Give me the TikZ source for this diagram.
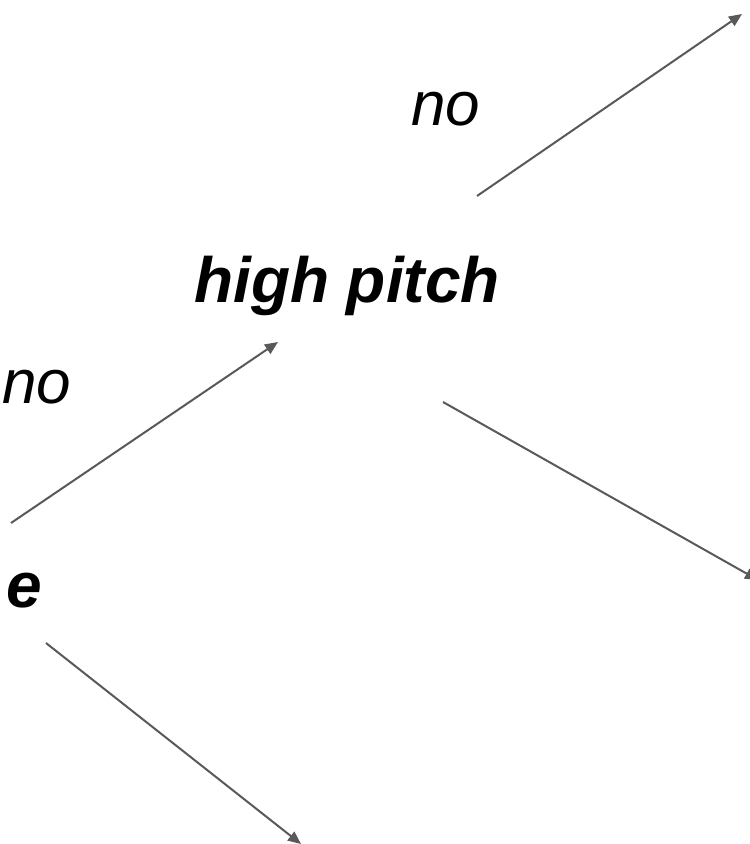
\documentclass[tikz,border=0pt]{standalone}
\usepackage{fontspec}
\setmainfont{Liberation Sans}
\usetikzlibrary{arrows.meta}
\definecolor{arrowgray}{HTML}{595959}
\tikzset{
  lbl/.style={font=\fontsize{62}{74}\selectfont\itshape, anchor=base, inner sep=0pt},
  bold lbl/.style={font=\fontsize{64}{76}\selectfont\bfseries\itshape, anchor=base, inner sep=0pt},
  conn/.style={draw=arrowgray, line width=2pt, -{Triangle[length=13pt,width=11pt]}, fill=arrowgray}
}
\begin{document}
\begin{tikzpicture}[x=1pt,y=-1pt]
\useasboundingbox (0,0) rectangle (750,844);
\clip (0,0) rectangle (750,844);
\node[bold lbl] (hp) at (347,302) {high pitch};
\node[lbl] (no1) at (446,125) {no};
\node[lbl] (no2) at (37,403) {no};
\node[bold lbl] (e) at (24,607) {e};
\coordinate (a1s) at (477,196);
\coordinate (a1e) at (742,14);
\coordinate (a2s) at (11,523);
\coordinate (a2e) at (278,342);
\coordinate (a3s) at (443,402);
\coordinate (a3e) at (758,580);
\coordinate (a4s) at (46,643);
\coordinate (a4e) at (301,844);
\draw[conn] (a1s) -- (a1e);
\draw[conn] (a2s) -- (a2e);
\draw[conn] (a3s) -- (a3e);
\draw[conn] (a4s) -- (a4e);
\end{tikzpicture}
\end{document}
